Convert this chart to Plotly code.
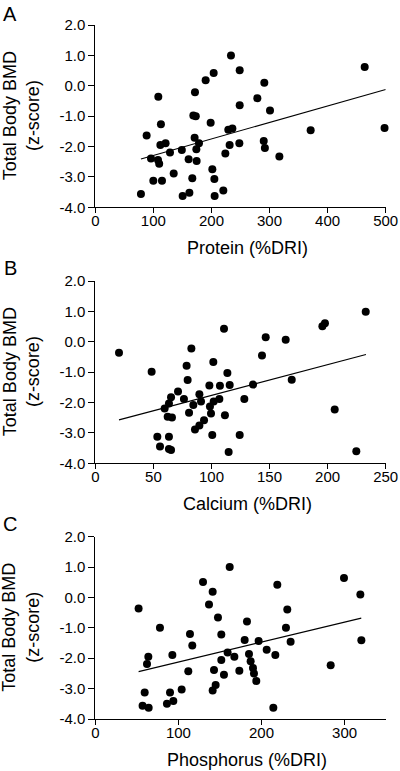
import plotly.graph_objects as go

# ---------------- data ----------------
protein_x = [78.6, 88.4, 95.9, 99.9, 108.5, 108.0, 110.0, 113.0, 112.0, 114.8,
             121.0, 128.6, 135.0, 149.0, 150.4, 160.7, 162.0, 167.0, 168.8, 173.0,
             171.0, 171.6, 174.0, 174.5, 178.5, 190.0, 198.6, 201.5, 203.8, 205.0,
             205.5, 220.4, 223.9, 229.0, 231.3, 233.6, 236.0, 248.0, 248.6, 248.6,
             279.0, 290.0, 291.0, 292.0, 300.8, 316.9, 370.8, 463.8, 498.0]
protein_y = [-3.56, -1.64, -2.39, -3.13, -0.36, -2.44, -2.57, -1.27, -1.95, -3.13,
             -1.89, -2.20, -2.89, -2.11, -3.63, -2.42, -3.52, -3.04, -0.98, -1.00,
             -1.71, -0.21, -2.09, -2.48, -1.89, 0.18, -1.22, -2.75, 0.42, -3.07,
             -3.63, -3.45, -2.23, -1.45, -1.95, 1.00, -1.41, -1.89, 0.51, -0.64,
             -0.41, -1.82, 0.10, -2.05, -0.81, -2.33, -1.46, 0.62, -1.39]
protein_fit_x = [78.6, 500.0]
protein_fit_y = [-2.41, -0.12]

calcium_x = [20.4, 48.5, 53.4, 55.7, 59.7, 62.3, 63.4, 63.4, 63.4, 65.2,
             65.2, 66.0, 71.2, 76.3, 78.6, 79.5, 80.7, 82.7, 84.4, 85.8,
             89.6, 89.6, 91.0, 93.6, 98.2, 98.7, 99.6, 100.7, 101.6, 101.9,
             107.3, 106.8, 110.8, 111.6, 113.7, 114.8, 115.7, 124.3, 128.3, 135.8,
             143.5, 146.7, 163.9, 169.1, 195.5, 197.7, 206.1, 224.7, 232.8]
calcium_y = [-0.36, -0.99, -3.13, -3.45, -2.20, -2.47, -2.03, -3.13, -3.53, -1.83,
             -3.56, -2.49, -1.64, -1.88, -0.79, -1.26, -2.34, -0.22, -2.08, -2.89,
             -2.76, -1.73, -1.97, -2.58, -1.44, -2.13, -2.36, -3.07, -0.67, -1.97,
             -1.45, -1.88, 0.43, -2.42, -1.03, -3.63, -1.42, -3.07, -1.88, -1.41,
             -0.45, 0.15, 0.07, -1.25, 0.51, 0.61, -2.23, -3.60, 0.99]
calcium_fit_x = [20.4, 233.0]
calcium_fit_y = [-2.57, -0.42]

phosphorus_x = [52.1, 56.9, 59.4, 62.2, 63.8, 64.2, 77.8, 86.2, 89.9, 92.7,
                93.9, 103.9, 111.9, 113.9, 116.7, 129.6, 136.8, 141.2, 141.2, 142.8,
                144.8, 147.6, 151.6, 151.6, 154.8, 159.2, 161.7, 167.3, 173.3, 179.7,
                182.5, 184.9, 186.9, 189.7, 190.9, 193.7, 196.5, 206.2, 214.2, 216.6,
                219.0, 229.4, 231.0, 235.0, 283.2, 299.2, 318.9, 320.1]
phosphorus_y = [-0.36, -3.56, -3.13, -2.19, -1.95, -3.63, -1.00, -3.50, -3.13, -1.89,
                -3.41, -3.03, -2.43, -1.20, -1.58, 0.51, -0.23, 0.19, -3.06, -2.39,
                -2.88, -0.66, -2.06, -1.22, -2.54, -1.81, 1.00, -1.95, -2.41, -1.40,
                -0.79, -1.86, -2.10, -2.32, -2.50, -2.75, -1.43, -1.72, -3.63, -1.89,
                0.42, -1.00, -0.40, -1.46, -2.23, 0.64, 0.10, -1.41]
phosphorus_fit_x = [52.1, 320.0]
phosphorus_fit_y = [-2.44, -0.68]

panel_letters = ["A", "B", "C"]
x_titles = ["Protein (%DRI)", "Calcium (%DRI)", "Phosphorus (%DRI)"]
y_title = "Total Body BMD<br>(z-score)"
y_tickvals = [2, 1, 0, -1, -2, -3, -4]
y_ticktext = ["2.0", "1.0", "0.0", "-1.0", "-2.0", "-3.0", "-4.0"]
x_ranges = [[0, 500], [0, 250], [0, 350]]
x_dticks = [100, 50, 100]

# ---------------- layout geometry (pixels) ----------------
W, H = 400, 771
FONT = "Liberation Sans, Arial, Helvetica, sans-serif"
panels_px = [  # (left, right, top, bottom) of plotting area
    (95.3, 385.7, 25.0, 207.3),
    (95.3, 385.7, 281.0, 463.3),
    (95.3, 386.2, 536.7, 719.0),
]
letter_y_px = [13.5, 267.5, 524.0]
XTITLE_GAP = 40.5

def px_x(v):
    return v / W

def px_y(v):
    return 1 - v / H

series = [
    (protein_x, protein_y, protein_fit_x, protein_fit_y),
    (calcium_x, calcium_y, calcium_fit_x, calcium_fit_y),
    (phosphorus_x, phosphorus_y, phosphorus_fit_x, phosphorus_fit_y),
]

fig = go.Figure()
layout = dict(
    width=W, height=H,
    margin=dict(l=0, r=0, t=0, b=0),
    paper_bgcolor="white", plot_bgcolor="white",
    showlegend=False,
    font=dict(family=FONT, color="black", size=15),
)
annotations = []

for i, (sx, sy, fx, fy) in enumerate(series):
    n = "" if i == 0 else str(i + 1)
    xa, ya = "x" + n, "y" + n
    left, right, top, bottom = panels_px[i]
    fig.add_trace(go.Scatter(
        x=sx, y=sy, mode="markers", xaxis=xa, yaxis=ya,
        marker=dict(color="black", size=8, line=dict(width=0)),
        cliponaxis=False,
    ))
    fig.add_trace(go.Scatter(
        x=fx, y=fy, mode="lines", xaxis=xa, yaxis=ya,
        line=dict(color="black", width=1.1),
        cliponaxis=False,
    ))
    layout["xaxis" + n] = dict(
        domain=[px_x(left), px_x(right)], anchor=ya,
        range=x_ranges[i], dtick=x_dticks[i], tick0=0,
        showline=True, linecolor="black", linewidth=1,
        ticks="outside", ticklen=5, tickwidth=1, tickcolor="black",
        ticklabelstandoff=-5,
        showgrid=False, zeroline=False, automargin=False,
        tickfont=dict(family=FONT, size=15, color="black"),
    )
    layout["yaxis" + n] = dict(
        domain=[px_y(bottom), px_y(top)], anchor=xa,
        range=[-4, 2], tickmode="array",
        tickvals=y_tickvals, ticktext=y_ticktext,
        showline=True, linecolor="black", linewidth=1,
        ticks="outside", ticklen=6, tickwidth=1, tickcolor="black",
        showgrid=False, zeroline=False, automargin=False,
        tickfont=dict(family=FONT, size=15, color="black"),
    )
    # panel letter
    annotations.append(dict(
        text=panel_letters[i], xref="paper", yref="paper",
        x=px_x(10), y=px_y(letter_y_px[i]),
        xanchor="center", yanchor="middle", showarrow=False,
        font=dict(family=FONT, size=20, color="black"),
    ))
    # y title
    annotations.append(dict(
        text=y_title, xref="paper", yref="paper",
        x=px_x(21), y=px_y((top + bottom) / 2),
        xanchor="center", yanchor="middle", showarrow=False, textangle=-90,
        font=dict(family=FONT, size=18, color="black"),
    ))
    # x title
    annotations.append(dict(
        text=x_titles[i], xref="paper", yref="paper",
        x=px_x(247), y=px_y(bottom + XTITLE_GAP),
        xanchor="center", yanchor="middle", showarrow=False,
        font=dict(family=FONT, size=18, color="black"),
    ))

layout["annotations"] = annotations
fig.update_layout(**layout)
fig.write_html(
    "out.html",
    config={"displayModeBar": False},
    post_script="document.body.style.margin='0';document.body.style.overflow='hidden';",
)
